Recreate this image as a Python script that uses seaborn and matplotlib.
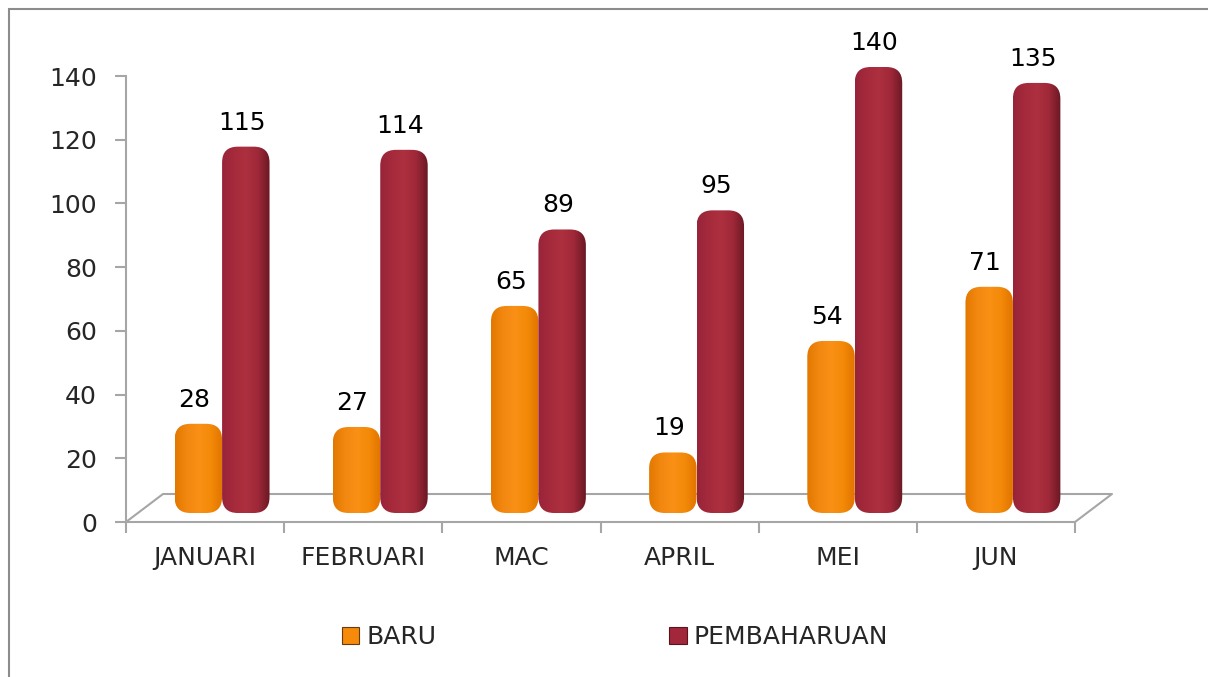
import numpy as np
import pandas as pd
import matplotlib
matplotlib.use("Agg")
import matplotlib.pyplot as plt
import matplotlib.transforms as mtransforms
from matplotlib.colors import LinearSegmentedColormap
from matplotlib.patches import FancyBboxPatch, Rectangle, Patch
from matplotlib.lines import Line2D
import seaborn as sns

months = ["JANUARI", "FEBRUARI", "MAC", "APRIL", "MEI", "JUN"]
baru = [28, 27, 65, 19, 54, 71]
pembaharuan = [115, 114, 89, 95, 140, 135]
series = ["BARU", "PEMBAHARUAN"]
colors = {"BARU": "#F58A0B", "PEMBAHARUAN": "#A3273A"}

df = pd.DataFrame({
    "bulan": months * 2,
    "siri": ["BARU"] * len(months) + ["PEMBAHARUAN"] * len(months),
    "nilai": baru + pembaharuan,
})

# shading across each "cylinder"
shades = {
    "BARU": LinearSegmentedColormap.from_list(
        "baru", ["#E27800", "#F28810", "#FA9015", "#F48A08", "#E07400"]),
    "PEMBAHARUAN": LinearSegmentedColormap.from_list(
        "pemb", ["#98243A", "#A52A3B", "#AD303F", "#9F2838", "#6A1824"]),
}

sns.set_style("white")
plt.rcParams["font.family"] = ["DejaVu Sans"]

W, H = 1208, 677
fig = plt.figure(figsize=(W / 100, H / 100), dpi=100)
ax = fig.add_axes([126 / W, (H - 522) / H, (1075 - 126) / W, 446 / H])

sns.barplot(data=df, x="bulan", y="nilai", hue="siri", palette=colors,
            width=0.6, saturation=1, legend=False, ax=ax)
ax.set_xlim(-0.5, 5.5)
ax.set_ylim(0, 140)

# pseudo 3D: bars sit a bit back on the floor
px_x = (1075 - 126) / 6
px_y = 446 / 140
aspect = px_x / px_y
trans = ax.transData + mtransforms.Affine2D().translate(17, 9)

names = [s for s in series for _ in months]
grad = np.linspace(0, 1, 256).reshape(1, -1)
for bar, name in zip(list(ax.patches), names):
    x, w, h = bar.get_x(), bar.get_width(), bar.get_height()
    bar.remove()
    shape = FancyBboxPatch((x, 0), w, h,
                           boxstyle="round,pad=0,rounding_size=0.1",
                           mutation_aspect=aspect, transform=trans,
                           facecolor="none", edgecolor="none")
    ax.add_patch(shape)
    im = ax.imshow(grad, cmap=shades[name], extent=(x, x + w, 0, h),
                   aspect="auto", zorder=2, interpolation="bilinear")
    im.set_transform(trans)
    im.set_clip_path(shape)
    im.set_clip_box(fig.bbox)
    ax.annotate(f"{h:g}", (x + w / 2, h), xytext=(13, 33),
                textcoords="offset pixels", ha="center", va="center",
                fontsize=18, color="black")

ax.set_xlim(-0.5, 5.5)
ax.set_ylim(0, 140)
ax.set_xlabel("")
ax.set_ylabel("")

grey = "#A6A6A6"
ax.set_yticks(range(0, 141, 20))
ax.tick_params(axis="y", length=8, width=1.5, color=grey, pad=13, labelsize=18, left=True)
ax.set_xticks(range(len(months)), months)
ax.set_xticks(np.arange(-0.5, len(months), 1), minor=True)
ax.tick_params(axis="x", which="major", length=0, pad=17, labelsize=18)
ax.tick_params(axis="x", which="minor", length=8, width=1.5, color=grey, bottom=True)
for side in ["top", "right"]:
    ax.spines[side].set_visible(False)
for side in ["left", "bottom"]:
    ax.spines[side].set_color(grey)
    ax.spines[side].set_linewidth(1.5)

# floor outline
dx, dy = 37 / 949, 28 / 446
ax.add_line(Line2D([0, dx, 1 + dx, 1], [0, dy, dy, 0], transform=ax.transAxes,
                   color=grey, lw=1.5, clip_on=False, zorder=0.5))

handles = [Patch(facecolor=colors[s], edgecolor="#6A3A10" if s == "BARU" else "#5A1420",
                 lw=0.8) for s in series]
fig.legend(handles, series, ncol=2, loc="center", bbox_to_anchor=(615 / W, 1 - 637 / H),
           frameon=False, fontsize=18, handlelength=0.7, handleheight=0.7,
           handletextpad=0.3, columnspacing=9.3)

fig.add_artist(Rectangle((9 / W, -0.1), 1.2, 1 - 9 / H + 0.1, transform=fig.transFigure,
                         fill=False, edgecolor="#8C8C8C", lw=1.5))

fig.savefig("out.png", dpi=100)
